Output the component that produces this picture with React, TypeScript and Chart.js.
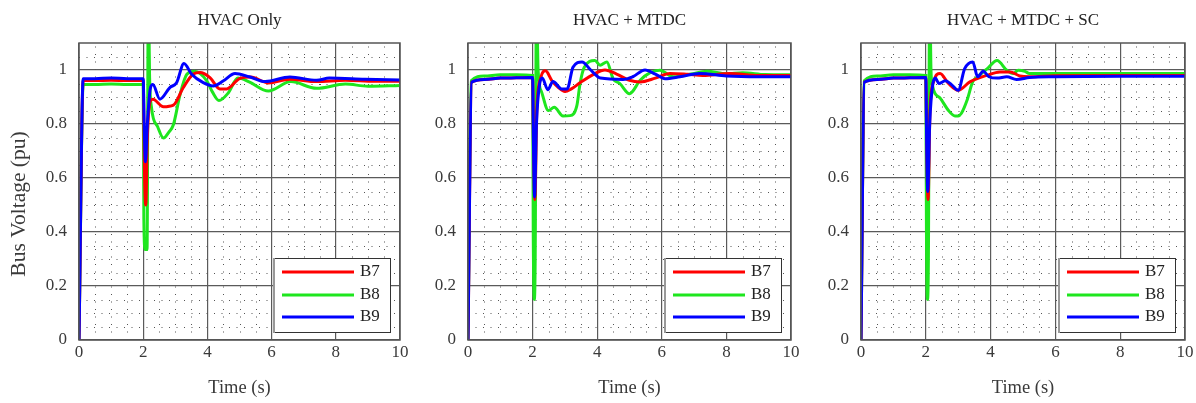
import React, { useEffect, useRef } from 'react';
import { Chart, registerables } from 'chart.js';
Chart.register(...registerables);

const X_TICKS = [0, 2, 4, 6, 8, 10];
const Y_TICKS = [0, 0.2, 0.4, 0.6, 0.8, 1];
const X_MINOR_STEP = 0.5;
const Y_MINOR_STEP = 0.05;
const SERIES_NAMES = ['B7', 'B8', 'B9'];
const SERIES_COLORS = ['#ff0000', '#1ee61e', '#0000ff'];
const PANEL_TITLES = ['HVAC Only', 'HVAC + MTDC', 'HVAC + MTDC + SC'];
const X_TITLE = 'Time (s)';
const Y_TITLE = 'Bus Voltage (pu)';

// Panel 1: HVAC Only
const P1_B7_T = [0, 0.13, 0.5, 1.0, 1.5, 2.0, 2.04, 2.08, 2.13, 2.22, 2.3, 2.63, 2.94, 3.25, 3.56, 3.77, 4.08, 4.39, 4.6, 5.0, 5.35, 5.9, 6.57, 7.4, 8.3, 9.2, 10];
const P1_B7_V = [0, 0.961, 0.961, 0.962, 0.961, 0.961, 0.62, 0.5, 0.75, 0.885, 0.892, 0.864, 0.87, 0.935, 0.985, 0.991, 0.972, 0.93, 0.93, 0.968, 0.974, 0.952, 0.966, 0.957, 0.962, 0.958, 0.958];
const P1_B8_T = [0, 0.13, 0.5, 1.0, 1.5, 2.0, 2.02, 2.06, 2.12, 2.16, 2.2, 2.26, 2.45, 2.63, 2.8, 2.94, 3.15, 3.36, 3.6, 3.98, 4.15, 4.36, 4.65, 4.95, 5.3, 5.9, 6.6, 7.4, 8.3, 9.0, 10];
const P1_B8_V = [0, 0.946, 0.946, 0.948, 0.946, 0.946, 0.45, 0.335, 0.335, 1.3, 0.97, 0.86, 0.79, 0.748, 0.77, 0.797, 0.91, 0.984, 0.995, 0.96, 0.92, 0.887, 0.915, 0.97, 0.956, 0.922, 0.957, 0.932, 0.948, 0.94, 0.943];
const P1_B9_T = [0, 0.13, 0.5, 1.0, 1.5, 2.0, 2.03, 2.07, 2.13, 2.22, 2.3, 2.52, 2.83, 3.04, 3.27, 3.51, 3.87, 4.18, 4.5, 4.86, 5.3, 5.8, 6.57, 7.4, 7.8, 8.9, 10];
const P1_B9_V = [0, 0.968, 0.968, 0.97, 0.968, 0.968, 0.8, 0.66, 0.8, 0.93, 0.946, 0.892, 0.935, 0.953, 1.024, 0.984, 0.953, 0.941, 0.96, 0.987, 0.975, 0.957, 0.974, 0.962, 0.97, 0.966, 0.963];

// Panel 2: HVAC + MTDC
const P2_B7_T = [0, 0.11, 0.5, 1.0, 1.5, 2.0, 2.03, 2.07, 2.13, 2.25, 2.4, 2.6, 2.8, 3.0, 3.2, 3.47, 3.9, 4.24, 4.6, 5.0, 5.33, 5.8, 6.25, 6.8, 7.27, 8.1, 9.0, 10];
const P2_B7_V = [0, 0.955, 0.965, 0.97, 0.971, 0.972, 0.7, 0.52, 0.85, 0.97, 0.997, 0.96, 0.935, 0.92, 0.93, 0.953, 0.985, 1.0, 0.985, 0.962, 0.956, 0.97, 0.987, 0.984, 0.98, 0.987, 0.98, 0.98];
const P2_B8_T = [0, 0.1, 0.5, 1.0, 1.5, 2.0, 2.02, 2.05, 2.08, 2.12, 2.17, 2.28, 2.49, 2.67, 2.94, 3.16, 3.37, 3.47, 3.6, 3.93, 4.09, 4.3, 4.49, 4.7, 5.0, 5.33, 5.64, 5.94, 6.35, 6.9, 7.4, 8.0, 8.5, 9.2, 10];
const P2_B8_V = [0, 0.96, 0.978, 0.982, 0.982, 0.98, 0.4, 0.15, 0.3, 1.3, 1.0, 0.918, 0.85, 0.862, 0.83, 0.831, 0.868, 0.95, 1.01, 1.035, 1.018, 1.03, 0.968, 0.95, 0.912, 0.962, 0.99, 0.999, 0.975, 0.985, 0.995, 0.986, 0.99, 0.983, 0.982];
const P2_B9_T = [0, 0.11, 0.5, 1.0, 1.5, 2.0, 2.03, 2.06, 2.12, 2.22, 2.3, 2.47, 2.63, 2.9, 3.07, 3.25, 3.53, 3.8, 4.1, 4.8, 5.1, 5.48, 5.8, 6.1, 6.56, 7.18, 8.0, 9.0, 10];
const P2_B9_V = [0, 0.955, 0.965, 0.97, 0.971, 0.972, 0.7, 0.53, 0.8, 0.95, 0.97, 0.927, 0.957, 0.93, 0.93, 1.01, 1.03, 1.0, 0.97, 0.965, 0.975, 1.0, 0.985, 0.968, 0.975, 0.987, 0.978, 0.975, 0.975];

// Panel 3: HVAC + MTDC + SC
const P3_B7_T = [0, 0.1, 0.5, 1.0, 1.5, 2.0, 2.03, 2.07, 2.13, 2.25, 2.44, 2.7, 3.0, 3.36, 3.88, 4.29, 4.6, 4.9, 5.2, 6.0, 8.0, 10];
const P3_B7_V = [0, 0.955, 0.965, 0.97, 0.971, 0.972, 0.7, 0.52, 0.85, 0.96, 0.987, 0.95, 0.925, 0.956, 0.98, 0.993, 0.993, 0.978, 0.975, 0.979, 0.98, 0.98];
const P3_B8_T = [0, 0.1, 0.5, 1.0, 1.5, 2.0, 2.02, 2.05, 2.08, 2.12, 2.16, 2.2, 2.45, 2.7, 2.9, 3.0, 3.1, 3.27, 3.45, 3.6, 3.9, 4.2, 4.5, 4.7, 4.85, 5.06, 5.2, 6.0, 8.0, 10];
const P3_B8_V = [0, 0.96, 0.978, 0.982, 0.982, 0.98, 0.4, 0.15, 0.3, 1.3, 1.0, 0.945, 0.895, 0.85, 0.83, 0.83, 0.84, 0.887, 0.957, 0.975, 1.005, 1.035, 0.999, 0.987, 0.999, 0.995, 0.987, 0.987, 0.987, 0.987];
const P3_B9_T = [0, 0.1, 0.5, 1.0, 1.5, 2.0, 2.03, 2.06, 2.12, 2.22, 2.3, 2.4, 2.6, 2.8, 3.0, 3.2, 3.45, 3.6, 3.77, 3.95, 4.2, 4.5, 4.8, 5.2, 6.0, 8.0, 10];
const P3_B9_V = [0, 0.955, 0.965, 0.97, 0.971, 0.972, 0.7, 0.55, 0.8, 0.95, 0.97, 0.95, 0.96, 0.945, 0.925, 1.005, 1.03, 0.975, 0.995, 0.975, 0.97, 0.975, 0.965, 0.972, 0.975, 0.977, 0.977];

const PANELS = [
  { t: [P1_B7_T, P1_B8_T, P1_B9_T], v: [P1_B7_V, P1_B8_V, P1_B9_V] },
  { t: [P2_B7_T, P2_B8_T, P2_B9_T], v: [P2_B7_V, P2_B8_V, P2_B9_V] },
  { t: [P3_B7_T, P3_B8_T, P3_B9_T], v: [P3_B7_V, P3_B8_V, P3_B9_V] },
];

const LAYOUT = [
  { left: 0, width: 412, yWidth: 79, padRight: 12, yTitle: true },
  { left: 420, width: 383, yWidth: 48, padRight: 12, yTitle: false },
  { left: 812, width: 384, yWidth: 49, padRight: 11, yTitle: false },
];

const FONT = 'Liberation Serif, serif';
const TEXT_COLOR = '#3a3a3a';

function Panel({ idx }: { idx: number }) {
  const ref = useRef<HTMLCanvasElement | null>(null);
  const lay = LAYOUT[idx];
  useEffect(() => {
    const panel = PANELS[idx];
    const deco = {
      id: 'deco' + idx,
      beforeDatasetsDraw(chart: any) {
        const { ctx, chartArea: ca } = chart;
        const xs = chart.scales.x, ys = chart.scales.y;
        ctx.save();
        ctx.beginPath();
        ctx.rect(ca.left, ca.top, ca.right - ca.left, ca.bottom - ca.top);
        ctx.clip();
        ctx.strokeStyle = '#555';
        ctx.lineWidth = 1;
        ctx.setLineDash([1, 6.5]);
        for (let k = 1; k * X_MINOR_STEP < 10; k++) {
          if (k % 4 === 0) continue;
          const px = Math.round(xs.getPixelForValue(k * X_MINOR_STEP)) + 0.5;
          ctx.beginPath();
          ctx.moveTo(px, ca.bottom);
          ctx.lineTo(px, ca.top);
          ctx.stroke();
        }
        for (let k = 1; k * Y_MINOR_STEP < 1.1; k++) {
          if (k % 4 === 0) continue;
          const py = Math.round(ys.getPixelForValue(k * Y_MINOR_STEP)) + 0.5;
          ctx.beginPath();
          ctx.moveTo(ca.left, py);
          ctx.lineTo(ca.right, py);
          ctx.stroke();
        }
        ctx.restore();
      },
      afterDatasetsDraw(chart: any) {
        const { ctx, chartArea: ca } = chart;
        ctx.save();
        // axes box
        ctx.strokeStyle = '#555';
        ctx.lineWidth = 1.5;
        ctx.strokeRect(ca.left, ca.top, ca.right - ca.left, ca.bottom - ca.top);
        // legend
        const lw = 116, lh = 74;
        const lx = Math.round(ca.right - 10 - lw), ly = Math.round(ca.bottom - 8 - lh);
        ctx.fillStyle = '#fff';
        ctx.fillRect(lx, ly, lw, lh);
        ctx.strokeStyle = '#333';
        ctx.lineWidth = 1;
        ctx.strokeRect(lx + 0.5, ly + 0.5, lw, lh);
        ctx.fillStyle = '#999';
        ctx.fillRect(lx - 1, ly, 2, lh + 1);
        const rows = [14, 37, 59];
        chart.data.datasets.forEach((ds: any, i: number) => {
          const y = ly + rows[i];
          ctx.strokeStyle = ds.borderColor;
          ctx.lineWidth = 3;
          ctx.beginPath();
          ctx.moveTo(lx + 8, y);
          ctx.lineTo(lx + 80, y);
          ctx.stroke();
          ctx.fillStyle = '#222';
          ctx.font = '17px ' + FONT;
          ctx.textAlign = 'left';
          ctx.textBaseline = 'middle';
          ctx.fillText(ds.label, lx + 86, y);
        });
        // titles
        const cx = (ca.left + ca.right) / 2;
        ctx.fillStyle = '#222';
        ctx.textAlign = 'center';
        ctx.textBaseline = 'alphabetic';
        ctx.font = '17px ' + FONT;
        ctx.fillText(PANEL_TITLES[idx], cx, 24.5);
        ctx.fillStyle = TEXT_COLOR;
        ctx.font = '18.5px ' + FONT;
        ctx.fillText(X_TITLE, cx, 393);
        if (lay.yTitle) {
          ctx.font = '21.5px ' + FONT;
          ctx.translate(25, 204);
          ctx.rotate(-Math.PI / 2);
          ctx.fillText(Y_TITLE, 0, 0);
        }
        ctx.restore();
      },
    };
    const orders = [1, 2, 0];
    const chart = new Chart(ref.current as HTMLCanvasElement, {
      type: 'line',
      data: {
        datasets: SERIES_NAMES.map((name, i) => ({
          label: name,
          data: panel.t[i].map((x: number, j: number) => ({ x, y: panel.v[i][j] })),
          borderColor: SERIES_COLORS[i],
          backgroundColor: SERIES_COLORS[i],
          borderWidth: 3,
          pointRadius: 0,
          cubicInterpolationMode: 'monotone',
          fill: false,
          order: orders[i],
        })),
      },
      options: {
        responsive: false,
        animation: false,
        layout: { padding: { top: 43, right: lay.padRight, bottom: 0, left: 0 } },
        plugins: { legend: { display: false }, tooltip: { enabled: false }, title: { display: false } },
        scales: {
          x: {
            type: 'linear',
            min: 0,
            max: 10,
            afterBuildTicks: (s: any) => { s.ticks = X_TICKS.map((v) => ({ value: v })); },
            afterFit: (s: any) => { s.height = 63; },
            ticks: { font: { family: FONT, size: 17 }, color: TEXT_COLOR, padding: 2, maxRotation: 0, callback: (v: any) => String(v) },
            grid: { color: '#5a5a5a', lineWidth: 1.2, drawTicks: false },
            border: { display: false },
          },
          y: {
            type: 'linear',
            min: 0,
            max: 1.1,
            afterBuildTicks: (s: any) => { s.ticks = Y_TICKS.map((v) => ({ value: v })); },
            afterFit: (s: any) => { s.width = lay.yWidth; },
            ticks: { font: { family: FONT, size: 17 }, color: TEXT_COLOR, padding: 12, callback: (v: any) => String(v) },
            grid: { color: '#5a5a5a', lineWidth: 1.2, drawTicks: false },
            border: { display: false },
          },
        },
      },
      plugins: [deco],
    } as any);
    return () => chart.destroy();
  }, [idx]);
  return (
    <canvas
      ref={ref}
      width={lay.width}
      height={403}
      style={{ position: 'absolute', left: lay.left, top: 0, width: lay.width, height: 403 }}
    />
  );
}

export default function App() {
  return (
    <div style={{ position: 'fixed', left: 0, top: 0, width: 1196, height: 403, background: '#fff', overflow: 'hidden' }}>
      {PANELS.map((_, i) => (
        <Panel key={i} idx={i} />
      ))}
    </div>
  );
}
